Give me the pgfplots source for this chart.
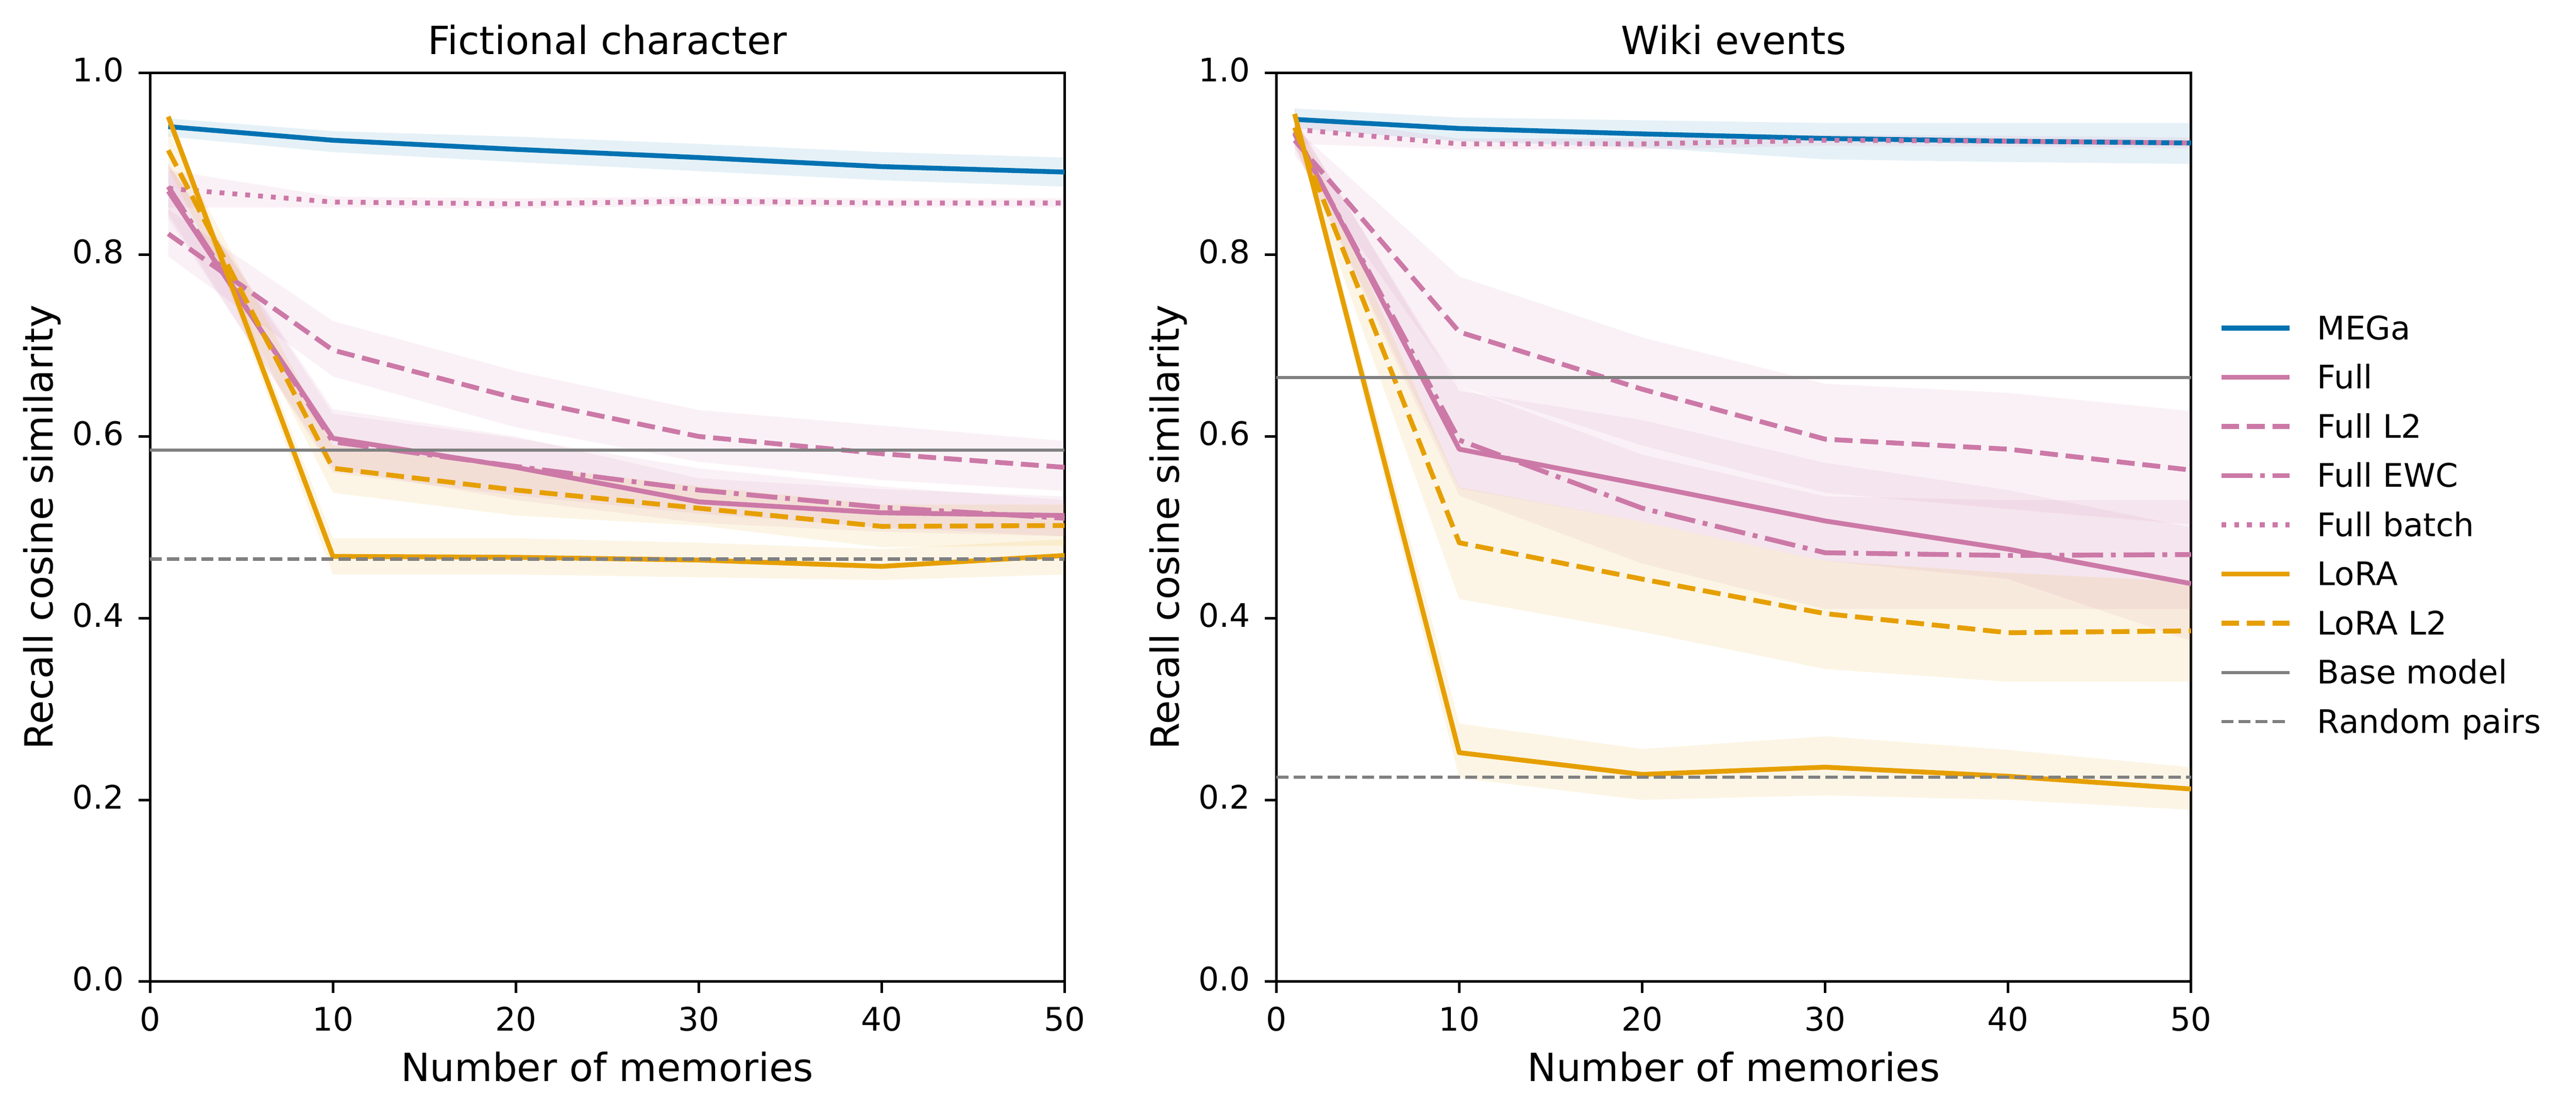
\documentclass[border=0pt]{standalone}
\usepackage{fontspec}
\setmainfont{DejaVu Sans}
\usepackage{pgfplots}
\usepackage{pgfplotstable}
\pgfplotsset{compat=1.18}
\usepgfplotslibrary{fillbetween}

\definecolor{cblue}{HTML}{0072B2}
\definecolor{cpink}{HTML}{CC79A7}
\definecolor{corange}{HTML}{E69F00}
\definecolor{cgray}{HTML}{808080}

% Fictional character
\pgfplotstableread{
x  mega  megaL megaU full  fullL fullU l2    l2L   l2U   ewc   ewcL  ewcU  batch batchL batchU lora  loraL loraU lt    ltL   ltU
1  0.941 0.930 0.950 0.870 0.840 0.900 0.823 0.798 0.850 0.875 0.845 0.900 0.873 0.852  0.893  0.952 0.945 0.958 0.915 0.895 0.935
10 0.926 0.913 0.936 0.598 0.565 0.630 0.695 0.666 0.727 0.594 0.560 0.625 0.858 0.852  0.864  0.468 0.448 0.488 0.565 0.538 0.590
20 0.916 0.902 0.930 0.566 0.530 0.600 0.642 0.610 0.672 0.567 0.535 0.598 0.856 0.851  0.862  0.467 0.448 0.488 0.541 0.513 0.568
30 0.907 0.892 0.922 0.528 0.505 0.554 0.600 0.572 0.629 0.541 0.515 0.565 0.859 0.854  0.864  0.464 0.445 0.483 0.521 0.502 0.545
40 0.897 0.882 0.913 0.516 0.495 0.542 0.581 0.552 0.612 0.522 0.500 0.545 0.857 0.852  0.862  0.457 0.442 0.476 0.501 0.478 0.525
50 0.891 0.875 0.907 0.513 0.490 0.534 0.566 0.540 0.595 0.510 0.490 0.530 0.857 0.852  0.862  0.469 0.448 0.487 0.502 0.480 0.525
}\lefttab

% Wiki events
\pgfplotstableread{
x  mega  megaL megaU full  fullL fullU l2    l2L   l2U   ewc   ewcL  ewcU  batch batchL batchU lora  loraL loraU lt    ltL   ltU
1  0.949 0.939 0.961 0.935 0.920 0.950 0.926 0.910 0.940 0.933 0.918 0.948 0.938 0.922  0.952  0.955 0.948 0.962 0.940 0.925 0.955
10 0.939 0.925 0.951 0.586 0.543 0.650 0.715 0.655 0.776 0.596 0.535 0.655 0.922 0.916  0.928  0.252 0.224 0.284 0.483 0.421 0.544
20 0.933 0.918 0.948 0.547 0.506 0.618 0.652 0.590 0.709 0.521 0.460 0.580 0.922 0.916  0.928  0.228 0.200 0.256 0.443 0.385 0.506
30 0.928 0.905 0.945 0.507 0.463 0.571 0.597 0.538 0.658 0.472 0.410 0.534 0.926 0.920  0.932  0.236 0.205 0.270 0.405 0.344 0.463
40 0.925 0.902 0.945 0.476 0.443 0.541 0.586 0.520 0.648 0.469 0.410 0.530 0.925 0.919  0.931  0.226 0.200 0.255 0.384 0.330 0.450
50 0.923 0.900 0.945 0.438 0.375 0.500 0.563 0.503 0.628 0.470 0.410 0.530 0.923 0.917  0.929  0.212 0.189 0.236 0.386 0.330 0.440
}\righttab

\pgfplotsset{
  myax/.style={
    scale only axis, width=282.5pt, height=280.7pt,
    xmin=0, xmax=50, ymin=0, ymax=1,
    xtick={0,10,20,30,40,50},
    ytick={0,0.2,0.4,0.6,0.8,1.0},
    yticklabel={\pgfmathprintnumber[fixed,fixed zerofill,precision=1]{\tick}},
    /pgf/number format/assume math mode=true,
    tick align=outside, tick pos=left, major tick length=3.5pt,
    every tick/.style={black, line width=0.8pt},
    axis line style={line width=0.8pt},
    ticklabel style={font=\fontsize{10}{12}\selectfont},
    xticklabel style={anchor=base, inner sep=0pt, yshift=-11.7pt},
    yticklabel style={anchor=mid east, inner sep=0pt, xshift=-4.4pt},
    every axis title/.style={font=\fontsize{12}{14}\selectfont, at={(axis description cs:0.5,1)}, anchor=base, yshift=5.8pt},
    xlabel={Number of memories},
    ylabel={Recall cosine similarity},
    every axis x label/.style={font=\fontsize{12}{14}\selectfont, at={(axis description cs:0.5,0)}, anchor=base, yshift=-30.8pt},
    every axis y label/.style={font=\fontsize{12}{14}\selectfont, at={(axis description cs:0,0.5)}, rotate=90, anchor=base, yshift=30.0pt},
  },
  sol/.style={line width=1.5pt, line join=round},
  dsh/.style={line width=1.5pt, line join=round, dash pattern=on 5.55pt off 2.4pt},
  dshdot/.style={line width=1.5pt, line join=round, dash pattern=on 9.6pt off 2.4pt on 1.5pt off 2.4pt},
  dots/.style={line width=1.5pt, line join=round, dash pattern=on 1.5pt off 2.475pt},
}

\newcommand{\band}[3]{%
  \addplot[draw=none, forget plot, name path=#2U] table[x=x,y=#2U]{#1};
  \addplot[draw=none, forget plot, name path=#2L] table[x=x,y=#2L]{#1};
  \addplot[fill=#3, fill opacity=0.1, draw=none, forget plot] fill between[of=#2U and #2L];
}

\newcommand{\panel}[3]{%
  \band{#1}{mega}{cblue}
  \band{#1}{full}{cpink}
  \band{#1}{l2}{cpink}
  \band{#1}{ewc}{cpink}
  \band{#1}{batch}{cpink}
  \band{#1}{lora}{corange}
  \band{#1}{lt}{corange}
  \addplot[cblue, sol] table[x=x,y=mega]{#1};
  \addplot[cpink, sol] table[x=x,y=full]{#1};
  \addplot[cpink, dsh] table[x=x,y=l2]{#1};
  \addplot[cpink, dshdot] table[x=x,y=ewc]{#1};
  \addplot[cpink, dots] table[x=x,y=batch]{#1};
  \addplot[corange, sol] table[x=x,y=lora]{#1};
  \addplot[corange, dsh] table[x=x,y=lt]{#1};
  \addplot[cgray, line width=1pt] coordinates {(0,#2) (50,#2)};
  \addplot[cgray, line width=1pt, dash pattern=on 3.7pt off 1.6pt] coordinates {(0,#3) (50,#3)};
}

\begin{document}
\begin{tikzpicture}
\begin{axis}[myax, at={(0pt,0pt)}, anchor=south west, title={Fictional character}]
\panel{\lefttab}{0.585}{0.465}
\end{axis}
\begin{axis}[myax, at={(347.88pt,0pt)}, anchor=south west, title={Wiki events},
  legend style={at={(axis description cs:1,1)}, anchor=north west, xshift=8.4pt, yshift=-74.5pt,
    draw=none, fill=none, inner sep=0pt, row sep=5.4pt, column sep=7.9pt,
    font=\fontsize{10}{12}\selectfont,
    nodes={inner sep=0pt, text height=7.6pt, text depth=2.2pt, anchor=base west}},
  legend cell align=left,
  legend image code/.code={\draw[#1] (0pt,3.5pt) -- (21pt,3.5pt);},
  legend entries={MEGa, Full, Full L2, Full EWC, Full batch, LoRA, LoRA L2, Base model, Random pairs},
]
\panel{\righttab}{0.665}{0.225}
\end{axis}
\pgfresetboundingbox
\path[use as bounding box] (-46.32pt,-40.44pt) rectangle (749.28pt,303.26pt);
\end{tikzpicture}
\end{document}
